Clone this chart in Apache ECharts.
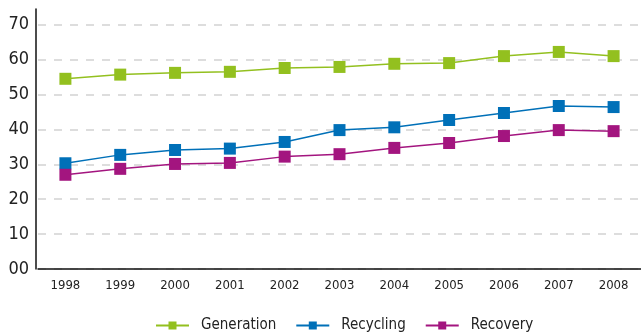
<!DOCTYPE html>
<html>
<head>
<meta charset="utf-8">
<script src="https://cdn.jsdelivr.net/npm/echarts@6/dist/echarts.min.js"></script>
<style>
  html, body { margin: 0; padding: 0; background: #fff; }
  #chart { width: 641px; height: 334px; }
</style>
</head>
<body>
<div id="chart"></div>
<script>
const years = ['1998', '1999', '2000', '2001', '2002', '2003', '2004', '2005', '2006', '2007', '2008']
const generation = [54.5, 55.7, 56.2, 56.5, 57.6, 57.9, 58.8, 59.0, 61.0, 62.2, 61.0]
const recycling = [30.3, 32.7, 34.1, 34.5, 36.4, 39.8, 40.6, 42.7, 44.7, 46.7, 46.4]
const recovery = [27.0, 28.7, 30.1, 30.4, 32.2, 32.9, 34.7, 36.1, 38.1, 39.8, 39.5]

const font = 'DejaVu Sans Condensed'

function line(name, data, color) {
  return {
    name,
    type: 'line',
    data,
    symbol: 'rect',
    symbolSize: 12,
    lineStyle: { color, width: 1.5 },
    itemStyle: { color },
  }
}

const chart = echarts.init(document.getElementById('chart'))
chart.setOption({
  animation: false,
  grid: { left: 38, right: 0, top: 9, bottom: 65 },
  legend: {
    bottom: -4,
    left: 150,
    itemWidth: 33,
    itemHeight: 10,
    itemGap: 19,
    textStyle: { fontFamily: font, fontSize: 15, color: '#222', padding: [0, 0, 0, 7] },
    data: ['Generation', 'Recycling', 'Recovery'],
  },
  xAxis: {
    type: 'category',
    data: years,
    axisLine: { lineStyle: { color: '#111', width: 1.5 } },
    axisTick: { show: false },
    axisLabel: { fontFamily: font, fontSize: 13, color: '#222', margin: 10 },
  },
  yAxis: {
    type: 'value',
    min: 0,
    max: 74.5,
    interval: 10,
    offset: 2,
    axisLine: { show: true, lineStyle: { color: '#111', width: 1.5 } },
    axisTick: { show: false },
    axisLabel: {
      fontFamily: font,
      fontSize: 18,
      color: '#222',
      margin: 7,
      showMaxLabel: false,
      formatter: v => (v === 0 ? '00' : v % 10 === 0 ? String(v) : ''),
    },
    splitLine: { showMaxLine: false, lineStyle: { color: '#ddd', width: 2, type: [8, 8] } },
  },
  series: [
    line('Generation', generation, '#93c01f'),
    line('Recycling', recycling, '#0070b8'),
    line('Recovery', recovery, '#a3157f'),
  ],
})
</script>
</body>
</html>
